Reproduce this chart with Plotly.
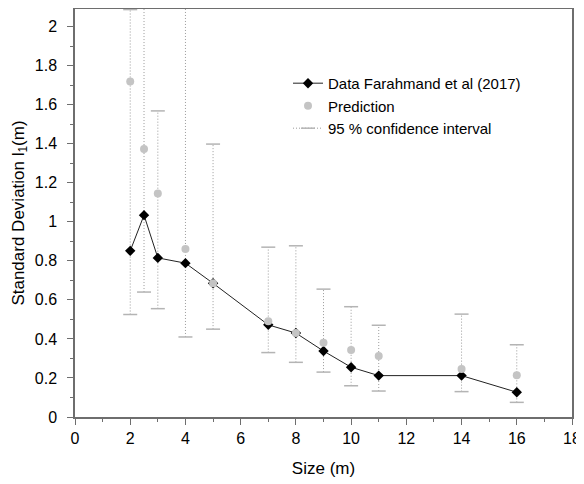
import plotly.graph_objects as go

sizes = [2, 2.5, 3, 4, 5, 7, 8, 9, 10, 11, 14, 16]
data_sd = [0.851, 1.034, 0.815, 0.788, 0.685, 0.472, 0.43, 0.338, 0.255, 0.212, 0.212, 0.127]
pred_sd = [1.718, 1.373, 1.145, 0.86, 0.685, 0.49, 0.43, 0.38, 0.343, 0.313, 0.246, 0.214]
ci_low = [0.525, 0.64, 0.555, 0.41, 0.45, 0.33, 0.28, 0.23, 0.16, 0.133, 0.13, 0.075]
ci_high = [2.087, 2.4, 1.568, 2.4, 1.398, 0.87, 0.877, 0.655, 0.565, 0.47, 0.527, 0.37]

ci_x, ci_y = [], []
for s, lo, hi in zip(sizes, ci_low, ci_high):
    ci_x += [s, s, None]
    ci_y += [lo, hi, None]

font = "Arial, Liberation Sans, sans-serif"
axc = "#6e6e6e"

fig = go.Figure()
fig.add_trace(go.Scatter(
    x=ci_x, y=ci_y, mode="lines+markers", name="95 % confidence interval",
    line=dict(color="#9a9a9a", width=1, dash="1px,2px"),
    marker=dict(symbol="line-ew", size=10, line=dict(color="#b4b4b4", width=1.5)),
    legendrank=3, connectgaps=False))
fig.add_trace(go.Scatter(
    x=sizes, y=data_sd, mode="lines+markers", name="Data Farahmand et al (2017)",
    line=dict(color="#222222", width=1),
    marker=dict(symbol="diamond", size=8, color="black"),
    legendrank=1))
fig.add_trace(go.Scatter(
    x=sizes, y=pred_sd, mode="markers", name="Prediction",
    marker=dict(symbol="circle", size=8, color="#c4c4c4"),
    legendrank=2))

fig.update_layout(
    width=576, height=476,
    margin=dict(l=67, r=12, t=1, b=67, autoexpand=False),
    paper_bgcolor="white", plot_bgcolor="white",
    font=dict(family=font, size=16, color="black"),
    showlegend=True,
    legend=dict(x=0.4286, y=0.858, xanchor="left", yanchor="top",
                bgcolor="rgba(0,0,0,0)", font=dict(size=15),
                tracegroupgap=0, itemwidth=30),
    xaxis=dict(range=[0, 18], tick0=0, dtick=2, ticks="outside", ticklen=6,
               tickcolor=axc, showline=True, linecolor=axc, linewidth=1.5,
               mirror=True, showgrid=False, zeroline=False, automargin=False,
               tickfont=dict(size=16),
               title=dict(text="Size (m)", standoff=16, font=dict(size=17)),
               minor=dict(ticks="outside", dtick=1, ticklen=3, tickcolor=axc, showgrid=False)),
    yaxis=dict(range=[0, 2.09], tick0=0, dtick=0.2, ticks="outside", ticklen=6,
               tickcolor=axc, showline=True, linecolor=axc, linewidth=1.5,
               mirror=True, showgrid=False, zeroline=False, automargin=False,
               ticklabelstandoff=7, tickfont=dict(size=16),
               title=dict(text="Standard Deviation l<sub>1</sub>(m)", standoff=6, font=dict(size=17)),
               minor=dict(ticks="outside", dtick=0.1, ticklen=3, tickcolor=axc, showgrid=False)),
)

fig.write_html("out.html")
